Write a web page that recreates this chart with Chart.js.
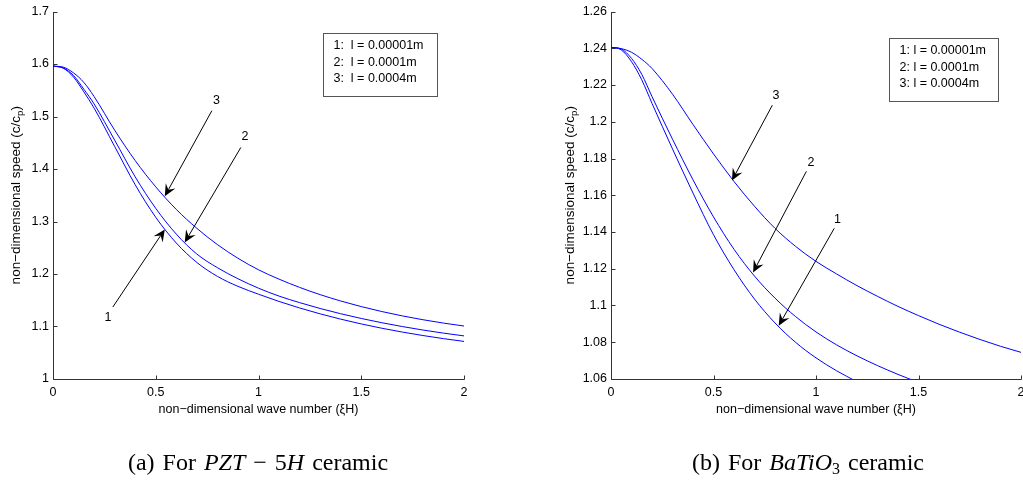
<!DOCTYPE html>
<html>
<head>
<meta charset="utf-8">
<script src="https://cdn.jsdelivr.net/npm/chart.js@4.4.1/dist/chart.umd.min.js"></script>
<style>
  html, body { margin: 0; padding: 0; background: #fff; overflow: hidden; }
  #page { position: relative; width: 1023px; height: 481px; overflow: hidden; }
  canvas { position: absolute; top: 0; }
  #chartA { left: 0; }
  #chartB { left: 511px; }
  .caption {
    position: absolute; top: 448px; transform: translateX(-50%);
    font-family: "Liberation Serif", "Times New Roman", serif; font-size: 24px;
    word-spacing: 2px;
    white-space: nowrap; color: #000; line-height: 28px;
  }
  .caption sub { font-size: 16px; vertical-align: -4px; line-height: 0; }
</style>
</head>
<body>
<div id="page">
  <canvas id="chartA" width="511" height="481"></canvas>
  <canvas id="chartB" width="540" height="481"></canvas>
  <div class="caption" style="left:258px">(a) For <i>PZT</i> &minus; 5<i>H</i> ceramic</div>
  <div class="caption" style="left:808px">(b) For <i>BaTiO</i><sub>3</sub> ceramic</div>
</div>
<script>
// non-dimensional wave number (xi H)
const waveNumber = [0, 0.05, 0.1, 0.15, 0.2, 0.3, 0.4, 0.5, 0.6, 0.7, 0.8, 0.9, 1.0,
                    1.1, 1.2, 1.3, 1.4, 1.5, 1.6, 1.7, 1.8, 1.9, 2.0];

// (a) PZT-5H, c/cp for l = 0.00001m, 0.0001m, 0.0004m
const pztSpeed1 = [1.596, 1.592, 1.575, 1.547, 1.516, 1.443, 1.370, 1.308, 1.259, 1.222, 1.1955, 1.1765,
                   1.1615, 1.1477, 1.1353, 1.1241, 1.114, 1.1049, 1.0967, 1.0894, 1.0828, 1.0769, 1.0716];
const pztSpeed2 = [1.596, 1.5925, 1.578, 1.552, 1.524, 1.455, 1.385, 1.325, 1.276, 1.238, 1.212, 1.191,
                   1.173, 1.1579, 1.1455, 1.1343, 1.1243, 1.1153, 1.1072, 1.0999, 1.0933, 1.0874, 1.0821];
const pztSpeed3 = [1.596, 1.594, 1.583, 1.565, 1.538, 1.474, 1.416, 1.366, 1.323, 1.287, 1.256, 1.230,
                   1.208, 1.1902, 1.1745, 1.1607, 1.1486, 1.1379, 1.1285, 1.1202, 1.1129, 1.1065, 1.1009];

// (b) BaTiO3 (curves 1 and 2 leave the plot at the bottom)
const batSpeed1 = [1.2405, 1.2391, 1.2327, 1.2228, 1.2100, 1.1852, 1.1612, 1.1385, 1.1195, 1.1035, 1.0905, 1.0800,
                   1.0715, 1.0645, 1.0585];
const batSpeed2 = [1.2405, 1.2396, 1.2345, 1.2258, 1.2137, 1.1905, 1.1684, 1.1482, 1.1306, 1.1160, 1.1040, 1.0940,
                   1.0856, 1.0786, 1.0726, 1.0673, 1.0625, 1.0581];
const batSpeed3 = [1.2405, 1.2398, 1.2378, 1.2340, 1.2290, 1.2150, 1.1985, 1.1825, 1.1675, 1.1540, 1.1420, 1.1322,
                   1.1240, 1.1172, 1.1108, 1.105, 1.0995, 1.0945, 1.0898, 1.0855, 1.0815, 1.0778, 1.0745];

const xTicks = [0, 0.5, 1, 1.5, 2];
const pztTicks = [1, 1.1, 1.2, 1.3, 1.4, 1.5, 1.6, 1.7];
const batTicks = [1.06, 1.08, 1.1, 1.12, 1.14, 1.16, 1.18, 1.2, 1.22, 1.24, 1.26];

const pztLegend = ["1:  l = 0.00001m", "2:  l = 0.0001m", "3:  l = 0.0004m"];
const batLegend = ["1: l = 0.00001m", "2: l = 0.0001m", "3: l = 0.0004m"];

// arrow notes: label, label at, tail, head (data units)
const pztArrows = [
  ["3", [0.796, 1.530], [0.773, 1.511], [0.544, 1.348]],
  ["2", [0.934, 1.462], [0.914, 1.441], [0.641, 1.260]],
  ["1", [0.267, 1.118], [0.291, 1.137], [0.544, 1.285]]
];
const batArrows = [
  ["3", [0.805, 1.214], [0.787, 1.209], [0.590, 1.168]],
  ["2", [0.976, 1.178], [0.953, 1.173], [0.693, 1.118]],
  ["1", [1.105, 1.147], [1.089, 1.142], [0.818, 1.089]]
];

const FONT = '"Liberation Sans", Arial, Helvetica, sans-serif';
const fmt = v => String(Math.round(v * 100) / 100);

// matlab style axes: left + bottom only, ticks pointing in, boxed legend, arrows
const matlabAxes = {
  id: "matlabAxes",
  beforeDatasetsDraw(chart) {
    const { ctx, chartArea: a } = chart;
    const x = chart.scales.x, y = chart.scales.y;
    const L = Math.round(a.left) + 0.5, B = Math.round(a.bottom) + 0.5;
    ctx.save();
    ctx.strokeStyle = "#333";
    ctx.lineWidth = 1;
    ctx.beginPath();
    ctx.moveTo(L, Math.round(a.top));
    ctx.lineTo(L, B);
    ctx.lineTo(Math.round(a.right) + 0.5, B);
    x.ticks.forEach(t => {
      const px = Math.round(x.getPixelForValue(t.value)) + 0.5;
      ctx.moveTo(px, B);
      ctx.lineTo(px, B - 4);
    });
    y.ticks.forEach(t => {
      const py = Math.round(y.getPixelForValue(t.value)) + 0.5;
      ctx.moveTo(L, py);
      ctx.lineTo(L + 4, py);
    });
    ctx.stroke();
    ctx.restore();
  },
  afterDatasetsDraw(chart, args, opts) {
    const { ctx, chartArea: a } = chart;
    const x = chart.scales.x, y = chart.scales.y;
    ctx.save();

    ctx.strokeStyle = "#000";
    ctx.fillStyle = "#000";
    ctx.lineWidth = 1;
    ctx.font = "12.5px " + FONT;
    ctx.textAlign = "center";
    ctx.textBaseline = "middle";
    opts.arrows.forEach(([label, at, from, to]) => {
      const x0 = x.getPixelForValue(from[0]), y0 = y.getPixelForValue(from[1]);
      const x1 = x.getPixelForValue(to[0]), y1 = y.getPixelForValue(to[1]);
      const ang = Math.atan2(y1 - y0, x1 - x0);
      const c = Math.cos(ang), s = Math.sin(ang);
      const len = 12, half = 5.5, notch = 7.5;
      ctx.beginPath();
      ctx.moveTo(x0, y0);
      ctx.lineTo(x1 - c * notch, y1 - s * notch);
      ctx.stroke();
      ctx.beginPath();
      ctx.moveTo(x1, y1);
      ctx.lineTo(x1 - c * len - s * half, y1 - s * len + c * half);
      ctx.lineTo(x1 - c * notch, y1 - s * notch);
      ctx.lineTo(x1 - c * len + s * half, y1 - s * len - c * half);
      ctx.closePath();
      ctx.fill();
      ctx.fillText(label, x.getPixelForValue(at[0]), y.getPixelForValue(at[1]));
    });

    // legend box
    const bx = Math.round(a.right - opts.box.right) + 0.5;
    const by = Math.round(a.top + opts.box.top) + 0.5;
    ctx.fillStyle = "#fff";
    ctx.fillRect(bx, by, opts.box.w, opts.box.h);
    ctx.strokeStyle = "#555";
    ctx.strokeRect(bx, by, opts.box.w, opts.box.h);
    ctx.fillStyle = "#000";
    ctx.textAlign = "left";
    opts.legend.forEach((line, i) => ctx.fillText(line, bx + 10, by + 12 + i * 16.6));

    // y title with subscript p
    ctx.translate(a.left - opts.yTitleOffset, (a.top + a.bottom) / 2);
    ctx.rotate(-Math.PI / 2);
    ctx.textBaseline = "alphabetic";
    const main = "non\u2212dimensional speed (c/c";
    ctx.font = "13.5px " + FONT;
    const w1 = ctx.measureText(main).width, w3 = ctx.measureText(")").width;
    ctx.font = "9.5px " + FONT;
    const w2 = ctx.measureText("p").width;
    let sx = -(w1 + w2 + w3) / 2;
    ctx.font = "13.5px " + FONT;
    ctx.fillText(main, sx, 4.5);
    ctx.font = "9.5px " + FONT;
    ctx.fillText("p", sx + w1, 8);
    ctx.font = "13.5px " + FONT;
    ctx.fillText(")", sx + w1 + w2, 4.5);
    ctx.restore();
  }
};

function buildChart(id, series, yTicks, legend, arrows, frame) {
  return new Chart(document.getElementById(id), {
    type: "line",
    data: {
      datasets: series.map(vals => ({
        data: vals.map((v, i) => ({ x: waveNumber[i], y: v })),
        borderColor: "#0000ff",
        borderWidth: 1,
        pointRadius: 0,
        fill: false,
        cubicInterpolationMode: "monotone"
      }))
    },
    options: {
      responsive: false,
      animation: false,
      devicePixelRatio: 1,
      layout: { padding: { left: 0, top: 11, right: frame.padRight, bottom: 62 } },
      plugins: {
        legend: { display: false },
        tooltip: { enabled: false },
        matlabAxes: { arrows: arrows, legend: legend, box: frame.box, yTitleOffset: frame.yTitleOffset }
      },
      scales: {
        x: {
          type: "linear",
          min: 0,
          max: 2,
          afterBuildTicks: s => { s.ticks = xTicks.map(v => ({ value: v })); },
          afterFit: s => { s.height = 40; },
          grid: { display: false, drawTicks: false },
          border: { display: false },
          ticks: {
            color: "#000", padding: 6, maxRotation: 0, autoSkip: false,
            font: { family: FONT, size: 12.5 },
            callback: v => fmt(v)
          },
          title: {
            display: true,
            text: "non\u2212dimensional wave number (\u03beH)",
            color: "#000",
            font: { family: FONT, size: 12.5 },
            padding: { top: 0, bottom: 2 }
          }
        },
        y: {
          type: "linear",
          min: yTicks[0],
          max: yTicks[yTicks.length - 1],
          afterBuildTicks: s => { s.ticks = yTicks.map(v => ({ value: v })); },
          afterFit: s => { s.width = frame.yWidth; },
          grid: { display: false, drawTicks: false },
          border: { display: false },
          ticks: {
            color: "#000", padding: 4, autoSkip: false,
            font: { family: FONT, size: 12.5 },
            callback: v => fmt(v)
          }
        }
      }
    },
    plugins: [matlabAxes]
  });
}

buildChart("chartA", [pztSpeed1, pztSpeed2, pztSpeed3], pztTicks, pztLegend, pztArrows,
  { yWidth: 53, padRight: 47, yTitleOffset: 38, box: { right: 141, top: 21, w: 114, h: 63 } });

buildChart("chartB", [batSpeed1, batSpeed2, batSpeed3], batTicks, batLegend, batArrows,
  { yWidth: 100, padRight: 30, yTitleOffset: 42, box: { right: 131.7, top: 26, w: 109, h: 63 } });
</script>
</body>
</html>
